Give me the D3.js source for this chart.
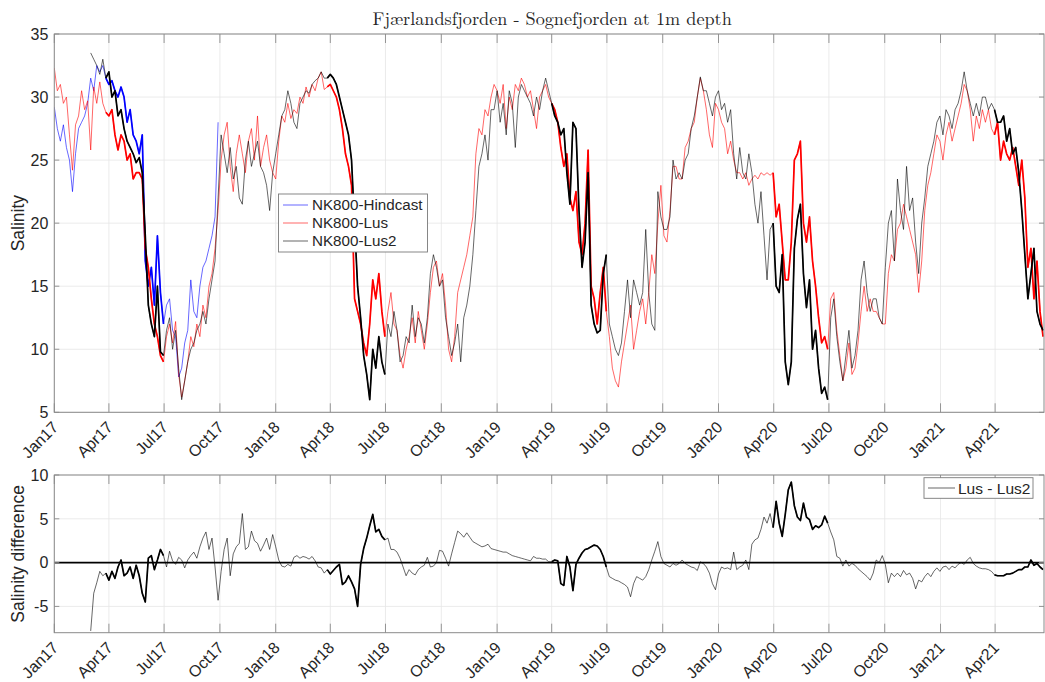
<!DOCTYPE html>
<html>
<head>
<meta charset="utf-8">
<script src="https://cdn.jsdelivr.net/npm/d3@7"></script>
<style>
  body { margin: 0; background: #fff; }
  text { font-family: "Liberation Sans", Arial, sans-serif; fill: #262626; }
</style>
</head>
<body>
<svg id="chart" width="1045" height="682"></svg>
<script>
/** Every series is sampled every 5 days from its own start date */
var stepDays = 5;
var hindcastStart = new Date(2017, 0, 1),
    lusStart = new Date(2017, 0, 1),
    lus2Start = new Date(2017, 2, 2),
    diffStart = new Date(2017, 2, 2);

/** NK800-Hindcast (blue), Jan17 - early Oct17 */
var hindcast = [
  29.2, 27.5, 26.5, 27.8, 26, 25, 22.5, 25.5, 27.5, 28, 28.5, 29.5, 31.5, 30.5, 32.5, 32, 32.5, 31.5,
  31, 31.3, 30.5, 30, 30.8, 30, 28, 29, 27, 26.5, 25.5, 27, 17, 15, 16.5, 13.5, 19, 14.5,
  12, 13.5, 14, 11.5, 11, 7.8, 8.5, 10.5, 11.5, 15.5, 13, 12.5, 15, 16.5, 17, 18, 19, 20.5,
  28
];

/** NK800-Lus (red) */
var lus = [
  32.3, 30.5, 31, 29.5, 30, 27, 24.2, 27.8, 28.5, 30.5, 29, 29.7, 25.8, 30.8, 29.5, 31.2, 29.5, 28.8, // Q1 17
  28.5, 29, 27, 25.8, 27, 26.5, 25, 25.5, 23.5, 24, 24, 23.5, 18, 16.5, 14, 12, 11, 9.5,             // Q2 17
  9, 11, 12, 10.5, 12.2, 8, 6.2, 7.5, 9, 11, 10.2, 12, 11, 13.5, 12.5, 15, 16, 18,                   // Q3 17
  21, 25, 27, 28, 24.5, 22.5, 25.5, 27, 25.5, 24, 26.5, 27.5, 25, 28.5, 24.5, 26, 27, 25,            // Q4 17
  24, 23.5, 26.5, 28.5, 28, 29.5, 28.3, 29, 28.7, 30, 29.5, 30.8, 30, 31, 30.5, 31.5, 32, 30.6,      // Q1 18
  30.8, 31, 30.5, 30, 29, 27.5, 25.5, 24.5, 23, 14, 13, 12, 10.5, 9.5, 12, 15.5, 14, 16,             // Q2 18
  13,
  11, 13, 14.5, 12, 11.5, 9.5, 8.5, 10, 11, 12.5, 10.5, 13, 11.5, 10, 12, 14.5, 16.5, 17,            // Q3 18
  15, 16, 13.5, 10, 9, 11, 14.5, 15.5, 16.5, 17.5, 19, 20.5, 25.5, 27.5, 27, 29, 28.5, 30,           // Q4 18
  31, 30.5, 29.5, 31, 27.5, 30, 29, 31, 30.5, 31.5, 31, 30, 30.5, 29, 27.5, 30, 30.5, 31,            // Q1 19
  30, 29.5, 29, 28, 26, 24.5, 25.5, 22, 21, 22.5, 18.5, 17.5, 20, 25.8, 15, 14, 12, 14.5,            // Q2 19
  16.5, 13, 11, 8.5, 7.5, 7, 9, 10.5, 12, 13.5, 10, 11.5, 13, 14, 12, 14.5, 17.5, 16,                // Q3 19
  20, 23, 19, 18.5, 21, 24.5, 24.5, 23.5, 23.5, 26, 26.5, 27.5, 28, 30, 31.5, 30.5, 29, 27,          // Q4 19
  26, 29.5, 29, 28, 27.5, 25.5, 26.5, 25, 24, 24, 23.5, 24, 23, 23.5, 23.8, 23.5, 24, 23.8,          // Q1 20
  24, 23.8, 24, 20.5, 21.5, 18.5, 15.5, 15.5, 18.5, 25, 25.5, 26.5, 20, 18.5, 20.5, 17, 15, 12.5,    // Q2 20
  10.5, 11, 10, 14, 14.5, 11.5, 9.5, 7.5, 8.5, 10.5, 8, 8.5, 10.5, 13, 15, 13, 14, 13,               // Q3 20
  13, 12.5, 12, 12, 16, 17.5, 17, 19.5, 20, 21.5, 20.5, 19.5, 18.5, 17.5, 14.5, 17, 21, 23,          // Q4 20
  24, 25.5, 27, 26.5, 25, 27, 28, 26.5, 27.5, 28.5, 29.5, 31, 30.5, 29, 26.5, 28.5, 27.5, 29,        // Q1 21
  28, 29, 27.5, 27, 28, 25, 26.5, 25.5, 25, 26, 24.5, 23, 25, 22, 16.5, 18, 14, 17, 13, 11           // Q2 21
];

/** NK800-Lus2 (black), starts Mar17 */
var lus2 = [
  33.5, 33, 32.5, 31.8, 33, 31.5,
  32, 30, 30.5, 28.5, 29, 27.5, 26.5, 26, 25.5, 24.8, 25.2, 24, 19, 13.5, 12, 11, 15, 9.8,           // Q2 17
  9.5, 11.5, 12.5, 10, 11.5, 8.5, 6, 7.5, 9, 10, 10.5, 11.5, 12, 13, 12, 14, 15.5, 17,               // Q3 17
  22, 27, 25.5, 24, 26, 23.5, 24.5, 22, 21.5, 25, 26.5, 24.5, 25.5, 26.5, 24.5, 24, 23, 21,          // Q4 17
  24, 25.5, 27, 28.5, 29, 30.5, 29.5, 28, 27.5, 29.5, 30, 30.5, 30.3, 31, 31.3, 31.5, 32, 31.5,      // Q1 18
  31.5, 31.8, 31.5, 31, 30, 29, 28, 27, 25, 20, 15, 12.5, 9.5, 8, 6, 10, 8.5, 11,                    // Q2 18
  9,
  8, 12, 11, 13, 11.5, 9, 9.5, 11, 10.5, 13.5, 11, 12.5, 12, 10.5, 12.5, 16, 17.5, 16.5,             // Q3 18
  15, 15.5, 12.5, 11, 9.5, 10.5, 12, 9, 12.5, 13.5, 15, 17.5, 21, 24.5, 25.5, 27, 25, 29,            // Q4 18
  29, 30.5, 28, 29.5, 27, 30.5, 29.5, 26, 30, 31, 30.5, 30, 29.5, 28.5, 30, 29, 30.5, 31.5,          // Q1 19
  30.5, 29.5, 28.5, 28, 27, 27.5, 24, 21.5, 28, 27.5, 21, 16.5, 18.5, 24, 13.5, 12, 11.3, 11.5,      // Q2 19
  16, 17.5, 12, 11, 10, 9.5, 10.5, 13, 15.5, 12.5, 15.5, 14.5, 13.5, 14.5, 19.5, 14.5, 12, 11.5,     // Q3 19
  22.5, 20.5, 19.5, 19.5, 20.5, 25, 23.5, 24, 23.5, 25, 25.5, 27.5, 28.5, 30, 31.6, 30.5, 30.5, 29.5,// Q4 19
  28.5, 30, 30.5, 29, 29.5, 28, 29, 25.5, 23.5, 26, 24, 23.5, 25.5, 24, 21.5, 20, 22.5, 19,          // Q1 20
  15.5, 19.5, 20, 15, 14.5, 17.5, 9, 7.2, 9, 18, 20.3, 21.5, 16, 13.3, 15.5, 10, 11.5, 8.5,          // Q2 20
  6.5, 7, 6, 12.5, 14, 11, 9, 7.5, 9.5, 11.5, 8.5, 9.5, 11.5, 15.5, 17, 14.5, 13, 14,                // Q3 20
  14, 12.5, 12, 16.5, 20, 21, 17, 23.5, 21, 19.5, 24.5, 21, 22, 18.5, 16, 20, 22, 24.5,              // Q4 20
  25.5, 26.5, 28, 28.5, 27, 29, 28.5, 27.5, 29, 29.5, 30.5, 32, 30.5, 29.5, 28.5, 29.5, 28.5, 30,    // Q1 21
  30, 29, 29.5, 29, 28, 28, 28.5, 26.5, 27.5, 25.5, 26, 24, 21, 17.5, 14, 16, 18, 13, 12, 11.5       // Q2 21
];

/** Lus - Lus2, starts Mar17 */
var lusDiff = [
  -7.8, -3.5, -2.3, -1, -1.5, -1.2,
  -2, -1, -1.8, -0.5, 0.3, -1.5, -1.2, -0.5, -1.8, -0.3, -1.5, -3.5, -4.5, 0.5, 0.8, -0.8, 0.3, 1.5,
  0.8, -0.5, 1.3, 0.2, -0.2, 0.6, 0.3, -0.6, 0.3, 0.8, 1.2, 0.5, 1.8, 2.8, 3.5, 1.5, 2.8, -0.5,
  -4.3, -1, 1.5, 2.8, -1.5, 1, 1.8, 2.2, 5.6, 1.5, 1.8, 3.6, 2.5, 2.2, 1.3, 2, 2.8, 1.5,
  3.2, 1.8, 0.3, -0.4, -0.5, -0.2, -0.4, 0.6, 0.8, 0.5, 0.7, 0.6, 0.4, 0.7, 0.2, -0.5, -0.6, -1.2,
  -0.8, -1.3, -0.9, -0.5, -0.2, -2.5, -2.2, -1.5, -2.2, -3, -5, -0.2, 1.6, 2.8, 4.2, 5.5, 3.5, 3.8,
  3, 2.6, 2.8, 1.5, 1.5, 1.2, 0.5, -0.5, -1.5, -0.8, -1.2, -1.4, -0.8, -0.5, -0.3, 0.6, -0.5, -0.4,
  0, 1.4, 1.3, 0.5, -0.4, 1, 2.3, 3.6, 3.3, 2.9, 3.4, 2.9, 2.4, 2.2, 2, 1.8, 1.9, 2.1,
  1.6, 1.5, 1.4, 1.3, 1.2, 1.2, 1, 0.8, 0.7, 0.6, 0.5, 0.4, 0.3, 0.2, 0.7, 0.5, 0.5, 0.4,
  0.4, 0.1, 0.1, 0.3, 0.2, -2.4, -2.6, 0.7, -0.5, -3.2, -0.2, 0.5, 1.1, 1.5, 1.6, 1.8, 2, 1.9,
  1.5, 0.7, -0.5, -1.6, -1.8, -2, -2.1, -2.3, -2.5, -2.8, -3.9, -2.4, -1.6, -1.8, -2, -1.6, -0.8, 0.3,
  1.3, 2.4, 0.7, -0.1, -0.3, -0.5, -0.1, -0.3, -0.1, 0.3, -0.1, -0.3, -0.5, -0.6, -0.9, 0.1, -0.1, -0.5,
  -1.2, -2.4, -3.1, -1.3, -0.5, -0.7, -0.6, -0.8, 1.2, -0.8, -0.5, -0.3, 0.3, -0.8, 2.1, 2.6, 2.8, 3.8,
  5.2, 4.5, 5.6, 4, 7, 4.5, 3, 5.5, 8.3, 9.2, 6.5, 5.2, 4.8, 6.8, 5.2, 4.9, 3.8, 4.2,
  4, 4.3, 5.3, 4.5, 3.5, 2.6, 0.7, 0.5, -0.4, 0.3, -0.4, -0.1, -0.3, -0.7, -1, -1.3, -1.6, -2,
  -1.2, 0.3, 0, 0.8, -0.2, -2.3, -1.2, -1.6, -1.2, -1.6, -0.9, -1.4, -1.2, -1.8, -3, -2, -2.2, -1.6,
  -1.2, -1.6, -1, -0.6, -1, -0.5, -0.4, -0.8, -0.4, -0.6, -0.2, 0, -0.2, 0.3, 0.6, -0.1, -0.4, -0.6,
  -0.7, -0.7, -0.8, -1, -1.4, -1.5, -1.5, -1.5, -1.3, -1.3, -1.2, -1, -0.8, -0.8, -0.5, -0.5, 0.3, -0.3, -0.1, -0.5, -0.8
];

/** Spring periods where the model output is high-frequency (plotted as a dense, bolder line) */
var densePeriods = [
  ["2017-03-25", "2017-06-30"],
  ["2018-03-23", "2018-06-30"],
  ["2019-03-28", "2019-06-30"],
  ["2020-03-30", "2020-06-30"],
  ["2021-03-28", "2021-06-25"]
];

var seriesNames = ["NK800-Hindcast", "NK800-Lus", "NK800-Lus2"],
    seriesColors = ["#0000ff", "#ff0000", "#000000"];

var titleText = "Fjærlandsfjorden - Sognefjorden at 1m depth";

/** Layout */
var plotLeft = 54.3, plotRight = 1044;
var thinWidth = 0.6, thickWidth = 1.7;

var svg = d3.select("#chart");

var x = d3.scaleTime()
    .domain([new Date(2017, 0, 1), new Date(2021, 5, 20, 14)])
    .range([plotLeft, plotRight]);

var yTop = d3.scaleLinear().domain([5, 35]).range([412.3, 34]);
var yBot = d3.scaleLinear().domain([-8, 10]).range([632.7, 475]);

var xTicks = x.ticks(d3.timeMonth.every(3));
var fmt = d3.timeFormat("%b%y");
var parse = d3.timeParse("%Y-%m-%d");
var dense = densePeriods.map(function(p){ return [parse(p[0]), parse(p[1])]; });

function toPoints(values, start) {
  return values.map(function(v, i){
    return {date: d3.timeDay.offset(start, i * stepDays), value: v};
  });
}

function drawFrame(y, yTicks, label, clipId) {
  var g = svg.append("g");
  var top = y.range()[1], bottom = y.range()[0];

  g.append("rect")
    .attr("x", plotLeft).attr("y", top)
    .attr("width", plotRight - plotLeft).attr("height", bottom - top)
    .attr("fill", "#fff");

  // grid
  g.selectAll(".vgrid").data(xTicks).enter().append("line")
    .attr("x1", function(d){ return x(d); }).attr("x2", function(d){ return x(d); })
    .attr("y1", top).attr("y2", bottom)
    .attr("stroke", "#e6e6e6").attr("stroke-width", 0.8);
  g.selectAll(".hgrid").data(yTicks).enter().append("line")
    .attr("x1", plotLeft).attr("x2", plotRight)
    .attr("y1", function(d){ return y(d); }).attr("y2", function(d){ return y(d); })
    .attr("stroke", "#e6e6e6").attr("stroke-width", 0.8);

  svg.append("clipPath").attr("id", clipId).append("rect")
    .attr("x", plotLeft).attr("y", top)
    .attr("width", plotRight - plotLeft).attr("height", bottom - top);

  // x tick labels (rotated)
  g.selectAll(".xlab").data(xTicks).enter().append("text")
    .attr("transform", function(d){ return "translate(" + (x(d) + 5) + "," + (bottom + 16) + ") rotate(-45)"; })
    .attr("text-anchor", "end")
    .style("font-size", "16px")
    .text(fmt);

  // y tick labels
  g.selectAll(".ylab").data(yTicks).enter().append("text")
    .attr("x", plotLeft - 6).attr("y", function(d){ return y(d); })
    .attr("dy", "0.36em")
    .attr("text-anchor", "end")
    .style("font-size", "16px")
    .text(function(d){ return d; });

  // axis label
  g.append("text")
    .attr("transform", "translate(24," + ((top + bottom) / 2) + ") rotate(-90)")
    .attr("text-anchor", "middle")
    .style("font-size", "17.5px")
    .text(label);

  return g;
}

function drawBox(y, yTicks) {
  var g = svg.append("g");
  var top = y.range()[1], bottom = y.range()[0];
  // tick marks on all four sides (pointing in)
  g.selectAll(".xt").data(xTicks).enter().append("path")
    .attr("d", function(d){
      var px = x(d);
      return "M" + px + "," + bottom + "V" + (bottom - 9) + "M" + px + "," + top + "V" + (top + 9);
    })
    .attr("stroke", "#8a8a8a").attr("stroke-width", 0.9);
  g.selectAll(".yt").data(yTicks).enter().append("path")
    .attr("d", function(d){
      var py = y(d);
      return "M" + plotLeft + "," + py + "H" + (plotLeft + 5) + "M" + plotRight + "," + py + "H" + (plotRight - 5);
    })
    .attr("stroke", "#8a8a8a").attr("stroke-width", 0.9);
  g.append("rect")
    .attr("x", plotLeft).attr("y", top)
    .attr("width", plotRight - plotLeft).attr("height", bottom - top)
    .attr("fill", "none").attr("stroke", "#8a8a8a").attr("stroke-width", 1);
}

function drawSeries(g, points, y, color) {
  var line = d3.line()
    .x(function(d){ return x(d.date); })
    .y(function(d){ return y(d.value); });

  g.append("path").datum(points)
    .attr("d", line)
    .attr("fill", "none")
    .attr("stroke", color)
    .attr("stroke-width", thinWidth)
    .attr("stroke-linejoin", "round");

  dense.forEach(function(p){
    var seg = points.filter(function(d){ return d.date >= p[0] && d.date <= p[1]; });
    if (seg.length < 2) return;
    g.append("path").datum(seg)
      .attr("d", line)
      .attr("fill", "none")
      .attr("stroke", color)
      .attr("stroke-width", thickWidth)
      .attr("stroke-linejoin", "round");
  });
}

// ---------- top panel ----------
var topTicks = [5, 10, 15, 20, 25, 30, 35];
drawFrame(yTop, topTicks, "Salinity", "clipTop");
var topLines = svg.append("g").attr("clip-path", "url(#clipTop)");
drawSeries(topLines, toPoints(hindcast, hindcastStart), yTop, seriesColors[0]);
drawSeries(topLines, toPoints(lus, lusStart), yTop, seriesColors[1]);
drawSeries(topLines, toPoints(lus2, lus2Start), yTop, seriesColors[2]);
drawBox(yTop, topTicks);

svg.append("text")
  .attr("x", (plotLeft + plotRight) / 2 + 3).attr("y", 25)
  .attr("text-anchor", "middle")
  .style("font-family", "'Latin Modern Roman', 'Liberation Serif', 'DejaVu Serif', serif")
  .style("font-size", "18.2px")
  .text(titleText);

// legend (top)
var leg = svg.append("g");
leg.append("rect")
  .attr("x", 278.5).attr("y", 194).attr("width", 149).attr("height", 58)
  .attr("fill", "#fff").attr("stroke", "#7a7a7a").attr("stroke-width", 0.9);
var legRows = leg.selectAll(".row").data(seriesNames).enter().append("g")
  .attr("transform", function(d, i){ return "translate(0," + (205 + i * 18) + ")"; });
legRows.append("line")
  .attr("x1", 283).attr("x2", 308).attr("y1", 0).attr("y2", 0)
  .attr("stroke", function(d, i){ return seriesColors[i]; })
  .attr("stroke-width", thinWidth);
legRows.append("text")
  .attr("x", 312).attr("y", 0).attr("dy", "0.36em")
  .style("font-size", "15.2px")
  .text(function(d){ return d; });

// ---------- bottom panel ----------
var botTicks = [-5, 0, 5, 10];
drawFrame(yBot, botTicks, "Salinity difference", "clipBot");
var botLines = svg.append("g").attr("clip-path", "url(#clipBot)");
drawSeries(botLines, toPoints(lusDiff, diffStart), yBot, "#000");
botLines.append("line")
  .attr("x1", plotLeft).attr("x2", plotRight)
  .attr("y1", yBot(0)).attr("y2", yBot(0))
  .attr("stroke", "#000").attr("stroke-width", 1.6);
drawBox(yBot, botTicks);

var leg2 = svg.append("g");
leg2.append("rect")
  .attr("x", 924).attr("y", 477.7).attr("width", 109).attr("height", 20.6)
  .attr("fill", "#fff").attr("stroke", "#7a7a7a").attr("stroke-width", 0.9);
leg2.append("line")
  .attr("x1", 928).attr("x2", 955).attr("y1", 488).attr("y2", 488)
  .attr("stroke", "#000").attr("stroke-width", thinWidth);
leg2.append("text")
  .attr("x", 958).attr("y", 488).attr("dy", "0.36em")
  .style("font-size", "15.5px")
  .text("Lus - Lus2");
</script>
</body>
</html>
